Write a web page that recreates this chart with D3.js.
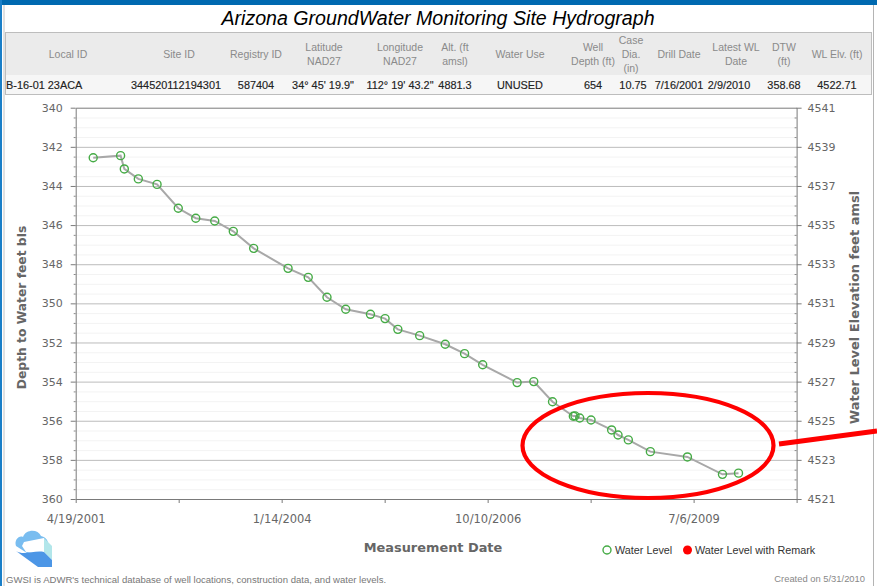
<!DOCTYPE html>
<html><head><meta charset="utf-8">
<script src="https://cdn.jsdelivr.net/npm/d3@7"></script>
<style>html,body{margin:0;padding:0;background:#fff;overflow:hidden}svg{display:block}</style>
</head><body><svg id="c" width="877" height="586"></svg>
<script>
const measurementDates = ["7/13/2001","11/23/2001","12/11/2001","2/17/2002","5/19/2002","8/30/2002","11/23/2002","2/23/2003","5/24/2003","8/31/2003","2/14/2004","5/22/2004","8/21/2004","11/20/2004","3/20/2005","5/30/2005","7/31/2005","11/14/2005","3/18/2006","6/20/2006","9/16/2006","3/2/2007","5/22/2007","8/21/2007","11/30/2007","12/8/2007","12/31/2007","2/24/2008","6/3/2008","7/4/2008","8/23/2008","12/8/2008","6/6/2009","11/23/2009","2/9/2010"];
const depthToWater = [342.56,342.45,343.13,343.64,343.92,345.14,345.65,345.79,346.32,347.19,348.21,348.67,349.69,350.30,350.56,350.78,351.33,351.65,352.09,352.57,353.14,354.05,354.00,355.03,355.77,355.75,355.86,355.96,356.47,356.73,356.98,357.58,357.85,358.74,358.68];
const xTickDates = ["4/19/2001","9/1/2002","1/14/2004","5/28/2005","10/10/2006","2/22/2008","7/6/2009","11/18/2010"];
const xTickLabels = ["4/19/2001","","1/14/2004","","10/10/2006","","7/6/2009",""];
const depthTicks = [340,342,344,346,348,350,352,354,356,358,360];
const elevTicks = [4541,4539,4537,4535,4533,4531,4529,4527,4525,4523,4521];
const tableHeaders = [["Local ID"],["Site ID"],["Registry ID"],["Latitude","NAD27"],["Longitude","NAD27"],["Alt. (ft","amsl)"],["Water Use"],["Well","Depth (ft)"],["Case","Dia.","(in)"],["Drill Date"],["Latest WL","Date"],["DTW","(ft)"],["WL Elv. (ft)"]];
const tableValues = ["B-16-01 23ACA","344520112194301","587404","34° 45' 19.9\"","112° 19' 43.2\"","4881.3","UNUSED","654","10.75","7/16/2001","2/9/2010","358.68","4522.71"];
const headerCenters = [68,179,256,324,400,455,520,593,631,679,736,784,837];
const valueCenters = [6,176,256,323,400,455,520,593,633,679,729,784,837];
const legendLabels = ["Water Level","Water Level with Remark"];

const arial = "'Liberation Sans',Arial,sans-serif", dejavu = "'DejaVu Sans',Verdana,sans-serif";
const svg = d3.select("#c");
const parse = d3.utcParse("%m/%d/%Y");
const L=75.7,R=796.6,T=107.7,B=499;
const x = d3.scaleUtc().domain([parse(xTickDates[0]),parse(xTickDates[7])]).range([L,R]);
const y = d3.scaleLinear().domain([340,360]).range([T,B]);
const yR = d3.scaleLinear().domain([4541,4521]).range([T,B]);

// page frame
svg.append("rect").attr("width",877).attr("height",5).attr("fill","#0069b0");
svg.append("rect").attr("x",0).attr("y",0).attr("width",2).attr("height",586).attr("fill","#1a7fc8");
svg.append("line").attr("x1",4).attr("x2",4).attr("y1",5).attr("y2",586).attr("stroke","#c4c4c4");
svg.append("line").attr("x1",873.5).attr("x2",873.5).attr("y1",5).attr("y2",586).attr("stroke","#b4b4b4");

svg.append("text").attr("x",438).attr("y",25).attr("text-anchor","middle")
  .attr("font-family",arial).attr("font-style","italic").attr("font-size",19.6).attr("fill","#000")
  .text("Arizona GroundWater Monitoring Site Hydrograph");

// table
svg.append("rect").attr("x",5.5).attr("y",32.5).attr("width",866).attr("height",62).attr("fill","#f6f6f6").attr("stroke","#bdbdbd");
svg.append("rect").attr("x",6).attr("y",33).attr("width",865).attr("height",42).attr("fill","#ebebeb");
tableHeaders.forEach((lines,i)=>{
  const h=14, y0=54.5-(lines.length-1)*h/2+3.5;
  lines.forEach((t,j)=>svg.append("text").attr("x",headerCenters[i]).attr("y",y0+j*h)
    .attr("text-anchor","middle").attr("font-family",arial).attr("font-size",10.5).attr("fill","#8a8a8a").text(t));
});
tableValues.forEach((t,i)=>svg.append("text").attr("x",valueCenters[i]).attr("y",88.5)
  .attr("text-anchor",i?"middle":"start").attr("font-family",arial).attr("font-size",10.9).attr("stroke","#222").attr("stroke-width",0.15).attr("fill","#222").text(t));

// grid
const minor = d3.range(340,360.01,0.5);
svg.append("g").selectAll("line").data(minor.filter(d=>d%2!==0)).join("line")
  .attr("x1",L).attr("x2",R).attr("y1",d=>y(d)+.5).attr("y2",d=>y(d)+.5).attr("stroke","#f3f3f3");
svg.append("g").selectAll("line").data(depthTicks.slice(1,-1)).join("line")
  .attr("x1",L).attr("x2",R).attr("y1",d=>y(d)+.5).attr("y2",d=>y(d)+.5).attr("stroke","#bcbcbc");

// axes
function style(g,fs){
  g.selectAll("text").attr("font-family",dejavu).attr("font-size",fs).attr("fill","#666");
  g.selectAll("line,path").attr("stroke","#7a7a7a");
}
const gx = svg.append("g").attr("transform",`translate(0,${B})`).call(
  d3.axisBottom(x).tickValues(xTickDates.map(parse)).tickFormat((d,i)=>xTickLabels[i]).tickSize(4).tickSizeOuter(0).tickPadding(12));
style(gx,11.5);
const gt = svg.append("g").attr("transform",`translate(0,${T})`).call(d3.axisTop(x).tickValues([]).tickSizeOuter(0));
style(gt,11);
const gl = svg.append("g").attr("transform",`translate(${L},0)`).call(
  d3.axisLeft(y).tickValues(depthTicks).tickSize(5).tickSizeOuter(0).tickPadding(8));
style(gl,11);
const gr = svg.append("g").attr("transform",`translate(${R},0)`).call(
  d3.axisRight(yR).tickValues(elevTicks).tickFormat(d3.format("d")).tickSize(5).tickSizeOuter(0).tickPadding(6));
style(gr,11);
svg.append("g").selectAll("line").data(minor.filter(d=>d%2!==0)).join("line")
  .attr("x1",L).attr("x2",L-2).attr("y1",d=>y(d)+.5).attr("y2",d=>y(d)+.5).attr("stroke","#8a8a8a");
svg.append("g").selectAll("line").data(minor.filter(d=>d%2!==0)).join("line")
  .attr("x1",R).attr("x2",R-2).attr("y1",d=>y(d)+.5).attr("y2",d=>y(d)+.5).attr("stroke","#8a8a8a");

// series
const pts = measurementDates.map((d,i)=>({date:parse(d),depth:depthToWater[i]}));
svg.append("path").datum(pts).attr("fill","none").attr("stroke","#a8a8a8").attr("stroke-width",2)
  .attr("d",d3.line().x(d=>x(d.date)).y(d=>y(d.depth)));
svg.append("g").selectAll("circle").data(pts).join("circle")
  .attr("cx",d=>x(d.date)).attr("cy",d=>y(d.depth)).attr("r",4)
  .attr("fill","none").attr("stroke","#45ab45").attr("stroke-width",1.4);

// axis titles
const title=(tx,ty,rot,t,fs)=>svg.append("text").attr("transform",`translate(${tx},${ty}) rotate(${rot})`)
  .attr("text-anchor","middle").attr("font-family",dejavu).attr("font-weight","bold").attr("font-size",fs).attr("fill","#666").text(t);
title(433,551.5,0,"Measurement Date",12.9);
title(26,307.5,-90,"Depth to Water feet bls",12.3);
title(859,307.5,-90,"Water Level Elevation feet amsl",13);

// legend
svg.append("circle").attr("cx",607).attr("cy",550).attr("r",4).attr("fill","#fff").attr("stroke","#45ab45").attr("stroke-width",1.4);
svg.append("text").attr("x",615).attr("y",553.5).attr("font-family",arial).attr("font-size",10.8).attr("fill","#333").text(legendLabels[0]);
svg.append("circle").attr("cx",687.5).attr("cy",550).attr("r",4.5).attr("fill","#f00");
svg.append("text").attr("x",695).attr("y",553.5).attr("font-family",arial).attr("font-size",10.8).attr("fill","#333").text(legendLabels[1]);

// footer
svg.append("text").attr("x",6).attr("y",583).attr("font-family",arial).attr("font-size",9.55).attr("fill","#777").text("GWSI is ADWR's technical database of well locations, construction data, and water levels.");
svg.append("text").attr("x",865).attr("y",582).attr("text-anchor","end").attr("font-family",arial).attr("font-size",9.4).attr("fill","#888").text("Created on 5/31/2010");

// logo
const logo=svg.append("g");
logo.append("path").attr("d","M16,546 C14,540 19,535 23,537 C26,529 38,529 41,536 C47,537 51,544 45,549 L27,553 Z").attr("fill","#79bdf0");
logo.append("path").attr("d","M44,538 L52,546 L52,560 L44,552 Z").attr("fill","#b2e6ea");
logo.append("path").attr("d","M24,542 L44,538 L44,552 L26,552 L22,546 Z").attr("fill","#fff");
logo.append("path").attr("d","M16,551 C24,556 34,550 44,552 L52,560 L52,567 L38,567 Z").attr("fill","#4c96e6");

// annotation
svg.append("ellipse").attr("cx",648).attr("cy",445.5).attr("rx",125.5).attr("ry",52.5).attr("fill","none").attr("stroke","#f00").attr("stroke-width",4.2);
svg.append("line").attr("x1",779).attr("y1",444).attr("x2",877).attr("y2",431).attr("stroke","#f00").attr("stroke-width",5);
</script></body></html>
